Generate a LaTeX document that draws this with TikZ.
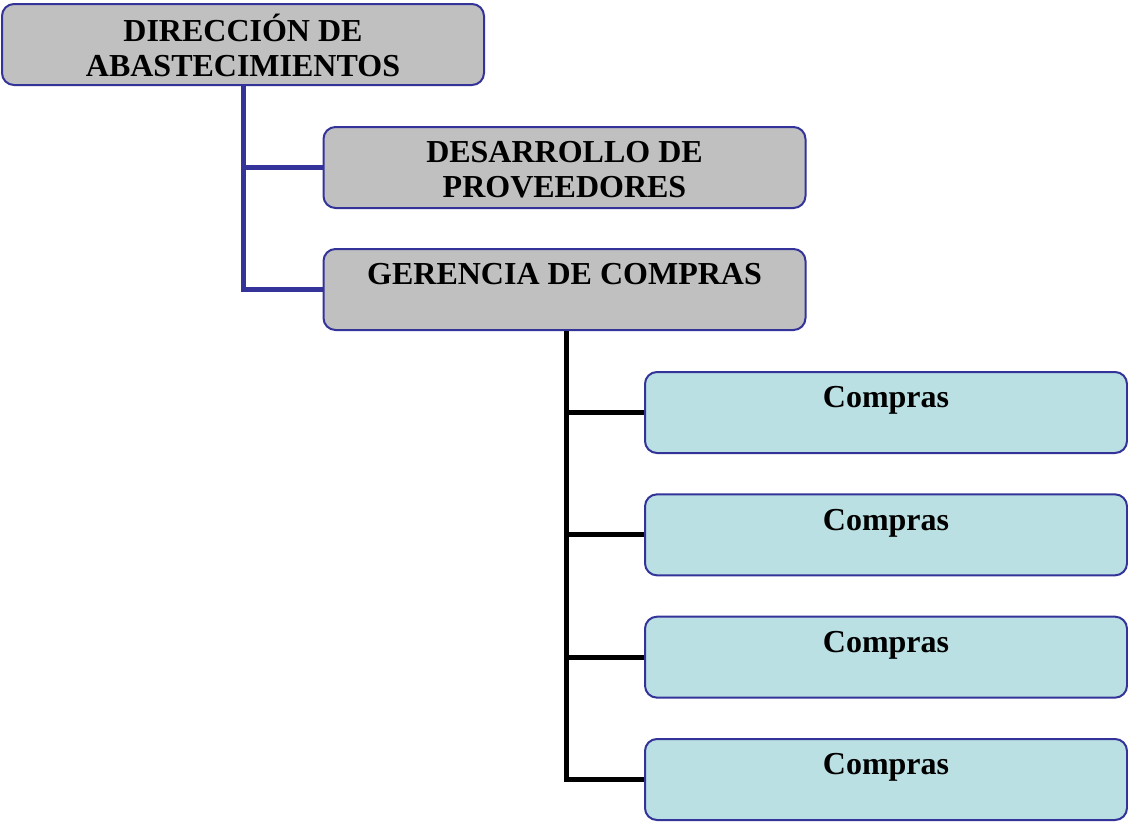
\documentclass[tikz,border=0pt]{standalone}
\usepackage{fontspec}
\setmainfont{Liberation Serif}
\usepackage{tikz}
\definecolor{boxgray}{HTML}{C0C0C0}
\definecolor{boxcyan}{HTML}{BAE0E3}
\definecolor{linkblue}{HTML}{333399}
% text block, lowered a little inside its box
\newcommand{\boxtext}[1]{\raisebox{-4.25pt}[\height][\depth]{\begin{tabular}{@{}c@{}}#1\end{tabular}}}
\tikzset{
  orgbox/.style = {draw=linkblue, line width=1.5pt, rounded corners=9pt,
    minimum width=361.5pt, minimum height=60.75pt, inner sep=0pt,
    font=\fontsize{24}{26.25}\selectfont\bfseries},
  graybox/.style = {orgbox, fill=boxgray},
  cyanbox/.style = {orgbox, fill=boxcyan},
  bluelink/.style = {draw=linkblue, line width=3.75pt},
  blacklink/.style = {draw=black, line width=3.75pt}
}
\begin{document}
\begin{tikzpicture}[x=0.75pt, y=-0.75pt]
\useasboundingbox (0,0) rectangle (1128,822);
\node[graybox] (dir) at (243,44.5) {\boxtext{DIRECCIÓN DE\\ABASTECIMIENTOS}}; %top
\node[graybox] (desa) at (564.5,167.5) {\boxtext{DESARROLLO DE\\PROVEEDORES}};
\node[graybox] (ger) at (564.5,289.5) {\boxtext{GERENCIA DE COMPRAS\\ \strut}};
\foreach \i in {1,...,4} { \node[cyanbox] (comp\i) at (886,{412.5+122.33*(\i-1)}) {\boxtext{Compras\\ \strut}}; }
\draw[bluelink] (dir.south) |- (desa.west);
\draw[bluelink] (dir.south) |- (ger.west);
\foreach \i in {1,...,4} { \draw[blacklink] ([xshift=1.5]ger.south) |- (comp\i.west); }
\end{tikzpicture}
\end{document}
